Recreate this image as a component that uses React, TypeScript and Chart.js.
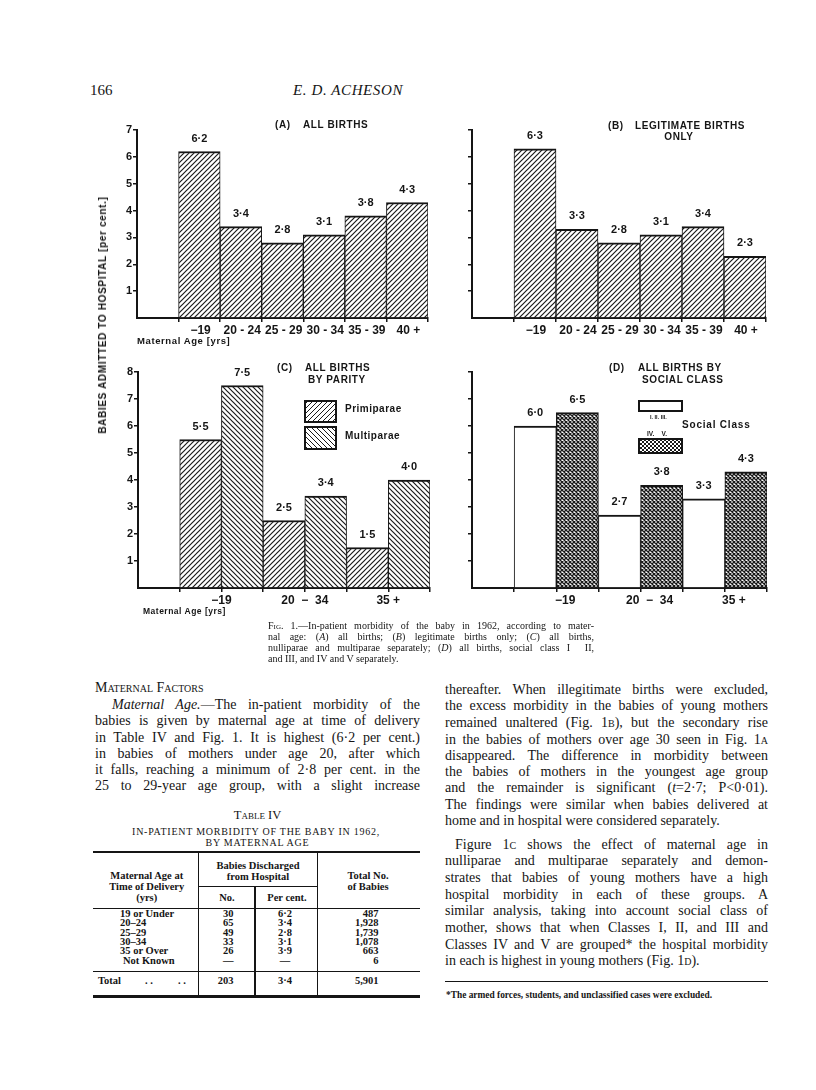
import React, { useEffect, useRef } from 'react';
import { Chart, registerables } from 'chart.js';

Chart.register(...registerables);

const INK = '#151515';
const SANS = '"Liberation Sans", Arial, sans-serif';
const SERIF = '"Liberation Serif", "Times New Roman", serif';

// ---------------- chart data ----------------
const AGE_GROUPS = ['−19', '20 - 24', '25 - 29', '30 - 34', '35 - 39', '40 +'];
const ALL_BIRTHS = [6.2, 3.4, 2.8, 3.1, 3.8, 4.3];
const LEGITIMATE_BIRTHS = [6.3, 3.3, 2.8, 3.1, 3.4, 2.3];
const BROAD_AGE_GROUPS = ['−19', '20  −  34', '35 +'];
const PRIMIPARAE = [5.5, 2.5, 1.5];
const MULTIPARAE = [7.5, 3.4, 4.0];
const SOCIAL_I_II_III = [6.0, 2.7, 3.3];
const SOCIAL_IV_V = [6.5, 3.8, 4.3];
const Y_MAX_AB = 7;
const Y_MAX_CD = 8;
const SLOTS = 7;

// ---------------- table data ----------------
const TABLE_AGE = ['19 or Under', '20–24', '25–29', '30–34', '35 or Over', 'Not Known'];
const TABLE_NO = ['30', '65', '49', '33', '26', '—'];
const TABLE_PCT = ['6·2', '3·4', '2·8', '3·1', '3·9', '—'];
const TABLE_TOTAL = ['487', '1,928', '1,739', '1,078', '663', '6'];
const TABLE_SUM = ['203', '3·4', '5,901'];

// ---------------- layout constants ----------------
const Y_AXIS_W = 30;
const X_AXIS_H = 32;
const PAD_TOP = 10;
const PAD_RIGHT = 12;

const fmt = (v: number) => v.toFixed(1).replace('.', '·');

function hatchPattern(dir: 'up' | 'down') {
  const s = 5;
  const c = document.createElement('canvas');
  c.width = s;
  c.height = s;
  const g = c.getContext('2d')!;
  g.fillStyle = '#fff';
  g.fillRect(0, 0, s, s);
  g.strokeStyle = '#1a1a1a';
  g.lineWidth = 1.2;
  g.beginPath();
  for (const o of [-s, 0, s]) {
    if (dir === 'up') {
      g.moveTo(o - 1, s + 1);
      g.lineTo(o + s + 1, -1);
    } else {
      g.moveTo(o - 1, -1);
      g.lineTo(o + s + 1, s + 1);
    }
  }
  g.stroke();
  return g.createPattern(c, 'repeat')!;
}

function crossPattern() {
  const s = 4;
  const c = document.createElement('canvas');
  c.width = s;
  c.height = s;
  const g = c.getContext('2d')!;
  g.fillStyle = '#fff';
  g.fillRect(0, 0, s, s);
  g.strokeStyle = '#1a1a1a';
  g.lineWidth = 1.3;
  g.beginPath();
  for (const o of [-s, 0, s]) {
    g.moveTo(o - 1, s + 1);
    g.lineTo(o + s + 1, -1);
    g.moveTo(o - 1, -1);
    g.lineTo(o + s + 1, s + 1);
  }
  g.stroke();
  return g.createPattern(c, 'repeat')!;
}

const valueLabels = {
  id: 'valueLabels',
  afterDatasetsDraw(chart: any) {
    const { ctx } = chart;
    ctx.save();
    ctx.font = `bold 11px ${SANS}`;
    ctx.fillStyle = INK;
    ctx.textAlign = 'center';
    ctx.textBaseline = 'middle';
    chart.data.datasets.forEach((ds: any, i: number) => {
      const meta = chart.getDatasetMeta(i);
      meta.data.forEach((el: any, j: number) => {
        ctx.fillText(fmt(ds.data[j].y), el.x, el.y - 13);
      });
    });
    ctx.restore();
  },
};

function barSet(label: string, values: number[], pos: (i: number) => number, fill: any) {
  return {
    label,
    data: values.map((v, i) => ({ x: pos(i), y: v })),
    backgroundColor: fill,
    borderColor: INK,
    borderWidth: { top: 2, left: 1, right: 1, bottom: 0 },
    borderSkipped: 'start',
    barPercentage: 1,
    categoryPercentage: 1,
    grouped: false,
  };
}

function barConfig(opts: {
  datasets: any[];
  yMax: number;
  yLabels: boolean;
  xLabels: { value: number; label: string }[];
  xMarks: number[];
  labelOffset?: number;
}) {
  const labelMap = new Map(opts.xLabels.map((t) => [t.value, t.label]));
  const markSet = new Set(opts.xMarks);
  const tickValues = Array.from(new Set([...opts.xMarks, ...opts.xLabels.map((t) => t.value)])).sort((a, b) => a - b);
  return {
    type: 'bar',
    data: { datasets: opts.datasets },
    options: {
      responsive: false,
      animation: false,
      events: [],
      layout: { padding: { top: PAD_TOP, right: PAD_RIGHT, left: 0, bottom: 0 } },
      plugins: { legend: { display: false }, tooltip: { enabled: false }, title: { display: false } },
      scales: {
        x: {
          type: 'linear',
          min: 0,
          max: SLOTS,
          offset: false,
          afterBuildTicks: (s: any) => {
            s.ticks = tickValues.map((v) => ({ value: v }));
          },
          afterFit: (s: any) => {
            s.height = X_AXIS_H;
          },
          grid: {
            offset: false,
            drawOnChartArea: false,
            drawTicks: true,
            tickLength: 4,
            lineWidth: 1.5,
            color: (c: any) => (c.tick && markSet.has(c.tick.value) ? INK : 'rgba(0,0,0,0)'),
          },
          border: { display: true, color: INK, width: 2 },
          ticks: {
            autoSkip: false,
            maxRotation: 0,
            minRotation: 0,
            padding: 1,
            labelOffset: opts.labelOffset || 0,
            color: INK,
            font: { family: SANS, size: 12, weight: 'bold' },
            callback: (v: number) => labelMap.get(v) ?? '',
          },
        },
        y: {
          type: 'linear',
          min: 0,
          max: opts.yMax,
          afterFit: (s: any) => {
            s.width = Y_AXIS_W;
          },
          grid: {
            drawOnChartArea: false,
            drawTicks: true,
            tickLength: 4,
            lineWidth: 1.5,
            color: (c: any) => (c.tick && c.tick.value > 0 ? INK : 'rgba(0,0,0,0)'),
          },
          border: { display: true, color: INK, width: 2 },
          ticks: {
            stepSize: 1,
            padding: 1,
            color: INK,
            font: { family: SANS, size: 11, weight: 'bold' },
            callback: (v: number) => (opts.yLabels && v > 0 ? String(v) : ''),
          },
        },
      },
    },
    plugins: [valueLabels],
  } as any;
}

const boundaryMarks = [1, 2, 3, 4, 5, 6, 7];

// A / B: each age-group label sits on the left edge tick of its bar, shifted to the bar centre
function buildA() {
  return barConfig({
    datasets: [barSet('All births', ALL_BIRTHS, (i) => i + 1.5, hatchPattern('up'))],
    yMax: Y_MAX_AB,
    yLabels: true,
    xLabels: AGE_GROUPS.map((l, i) => ({ value: i + 1, label: l })),
    xMarks: boundaryMarks,
    labelOffset: 22,
  });
}
function buildB() {
  return barConfig({
    datasets: [barSet('Legitimate births only', LEGITIMATE_BIRTHS, (i) => i + 1.5, hatchPattern('up'))],
    yMax: Y_MAX_AB,
    yLabels: false,
    xLabels: AGE_GROUPS.map((l, i) => ({ value: i + 1, label: l })),
    xMarks: boundaryMarks,
    labelOffset: 22,
  });
}
function buildC() {
  return barConfig({
    datasets: [
      barSet('Primiparae', PRIMIPARAE, (i) => 2 * i + 1.5, hatchPattern('up')),
      barSet('Multiparae', MULTIPARAE, (i) => 2 * i + 2.5, hatchPattern('down')),
    ],
    yMax: Y_MAX_CD,
    yLabels: true,
    xLabels: BROAD_AGE_GROUPS.map((l, i) => ({ value: 2 * i + 2, label: l })),
    xMarks: boundaryMarks,
  });
}
function buildD() {
  return barConfig({
    datasets: [
      barSet('Social class I, II, III', SOCIAL_I_II_III, (i) => 2 * i + 1.5, '#ffffff'),
      barSet('Social class IV, V', SOCIAL_IV_V, (i) => 2 * i + 2.5, crossPattern()),
    ],
    yMax: Y_MAX_CD,
    yLabels: false,
    xLabels: BROAD_AGE_GROUPS.map((l, i) => ({ value: 2 * i + 2, label: l })),
    xMarks: boundaryMarks,
    labelOffset: 9,
  });
}

function BarPanel(props: { left: number; top: number; width: number; height: number; build: () => any }) {
  const ref = useRef<HTMLCanvasElement>(null);
  useEffect(() => {
    const chart = new Chart(ref.current!, props.build());
    return () => chart.destroy();
  }, []);
  return (
    <canvas
      ref={ref}
      width={props.width}
      height={props.height}
      style={{ position: 'absolute', left: props.left, top: props.top, width: props.width, height: props.height }}
    />
  );
}

function panelBox(areaLeft: number, areaRight: number, areaTop: number, areaBottom: number) {
  return {
    left: areaLeft - Y_AXIS_W,
    top: areaTop - PAD_TOP,
    width: Y_AXIS_W + (areaRight - areaLeft) + PAD_RIGHT,
    height: PAD_TOP + (areaBottom - areaTop) + X_AXIS_H,
  };
}

function T(p: {
  x: number;
  y: number;
  size?: number;
  family?: string;
  weight?: number;
  italic?: boolean;
  align?: 'left' | 'center' | 'right';
  ls?: number;
  children: any;
  style?: any;
}) {
  const size = p.size ?? 10;
  const lh = Math.round(size * 1.2);
  const tx = p.align === 'center' ? '-50%' : p.align === 'right' ? '-100%' : '0';
  return (
    <div
      style={{
        position: 'absolute',
        left: p.x,
        top: p.y - lh / 2,
        fontSize: size,
        lineHeight: lh + 'px',
        fontFamily: p.family ?? SERIF,
        fontWeight: p.weight ?? 400,
        fontStyle: p.italic ? 'italic' : 'normal',
        letterSpacing: p.ls ?? 0,
        whiteSpace: 'nowrap',
        transform: `translateX(${tx})`,
        ...p.style,
      }}
    >
      {p.children}
    </div>
  );
}

function Line(p: { x: number; y: number; w: number; last?: boolean; indent?: number; size?: number; lh?: number; children: any; style?: any }) {
  const lh = p.lh ?? 16.5;
  return (
    <div
      style={{
        position: 'absolute',
        left: p.x,
        top: p.y - lh / 2,
        width: p.w,
        height: lh,
        lineHeight: lh + 'px',
        fontSize: p.size ?? 14,
        fontFamily: SERIF,
        textAlign: 'justify',
        textAlignLast: p.last ? 'left' : 'justify',
        textIndent: p.indent ?? 0,
        whiteSpace: 'nowrap',
        ...p.style,
      }}
    >
      {p.children}
    </div>
  );
}

const SC = (s: string) => <span style={{ fontVariant: 'small-caps' }}>{s}</span>;
const I = (s: string) => <i>{s}</i>;

function HLine(p: { x1: number; x2: number; y: number; w?: number }) {
  const w = p.w ?? 1;
  return <div style={{ position: 'absolute', left: p.x1, top: p.y - w / 2, width: p.x2 - p.x1, height: w, background: INK }} />;
}
function VLine(p: { x: number; y1: number; y2: number; w?: number }) {
  const w = p.w ?? 1;
  return <div style={{ position: 'absolute', left: p.x - w / 2, top: p.y1, width: w, height: p.y2 - p.y1, background: INK }} />;
}

const hatchUpCss = 'repeating-linear-gradient(135deg, #1a1a1a 0 1px, #fff 1px 3.54px)';
const hatchDownCss = 'repeating-linear-gradient(45deg, #1a1a1a 0 1px, #fff 1px 3.54px)';
const crossCss =
  'repeating-linear-gradient(45deg, #1a1a1a 0 1.3px, transparent 1.3px 2.83px), repeating-linear-gradient(135deg, #1a1a1a 0 1.3px, transparent 1.3px 2.83px)';

function Box(p: { x: number; y: number; w: number; h: number; bg: string }) {
  return (
    <div
      style={{
        position: 'absolute',
        left: p.x,
        top: p.y,
        width: p.w,
        height: p.h,
        boxSizing: 'border-box',
        border: `2px solid ${INK}`,
        backgroundColor: '#fff',
        backgroundImage: p.bg,
      }}
    />
  );
}

export default function App() {
  const A = panelBox(137, 428, 130, 318);
  const B = panelBox(472, 766, 130, 318);
  const C = panelBox(138, 430, 372, 588);
  const D = panelBox(472, 767, 372, 588);

  const chartTitle = { family: SANS, weight: 700, size: 10, ls: 0.6 };
  const colL = 95;
  const colLW = 325;
  const colR = 445;
  const colRW = 323;
  const rowsY = [914, 923.3, 932.7, 942, 951.3, 960.7];
  const tf = { size: 10.5, weight: 700 };

  return (
    <div
      style={{
        position: 'absolute',
        left: 0,
        top: 0,
        width: 816,
        height: 1090,
        background: '#fff',
        color: INK,
        overflow: 'hidden',
      }}
    >
      {/* running head */}
      <T x={90} y={90} size={15}>166</T>
      <T x={348} y={90} size={15} italic align="center" ls={0.6}>E. D. ACHESON</T>

      {/* charts */}
      <BarPanel {...A} build={buildA} />
      <BarPanel {...B} build={buildB} />
      <BarPanel {...C} build={buildC} />
      <BarPanel {...D} build={buildD} />

      {/* shared y axis title */}
      <div
        style={{
          position: 'absolute',
          left: 102.5,
          top: 314.5,
          transform: 'translate(-50%, -50%) rotate(-90deg)',
          whiteSpace: 'nowrap',
          fontFamily: SANS,
          fontWeight: 700,
          fontSize: 10,
          letterSpacing: 0.65,
          lineHeight: '12px',
        }}
      >
        BABIES ADMITTED TO HOSPITAL [per cent.]
      </div>

      {/* panel titles */}
      <T x={275} y={125} {...chartTitle}>(A)</T>
      <T x={303} y={125} {...chartTitle}>ALL BIRTHS</T>
      <T x={608} y={126} {...chartTitle}>(B)</T>
      <T x={635} y={126} {...chartTitle}>LEGITIMATE BIRTHS</T>
      <T x={679} y={137} align="center" {...chartTitle}>ONLY</T>
      <T x={277} y={368} {...chartTitle}>(C)</T>
      <T x={305} y={368} {...chartTitle}>ALL BIRTHS</T>
      <T x={308} y={380} {...chartTitle}>BY PARITY</T>
      <T x={609} y={368} {...chartTitle}>(D)</T>
      <T x={638} y={368} {...chartTitle}>ALL BIRTHS BY</T>
      <T x={642} y={380} {...chartTitle}>SOCIAL CLASS</T>

      {/* x axis titles */}
      <T x={137} y={340} family={SANS} weight={700} size={9.5} ls={0.6}>Maternal Age [yrs]</T>
      <T x={143} y={611} family={SANS} weight={700} size={8.5} ls={0.5}>Maternal Age [yrs]</T>

      {/* legend C */}
      <Box x={304} y={400} w={33} h={23} bg={hatchUpCss} />
      <Box x={304} y={426} w={33} h={24} bg={hatchDownCss} />
      <T x={345} y={409} family={SANS} weight={700} size={10} ls={0.5}>Primiparae</T>
      <T x={345} y={436} family={SANS} weight={700} size={10} ls={0.5}>Multiparae</T>

      {/* legend D */}
      <Box x={638} y={400} w={45} h={12} bg="none" />
      <T x={650} y={417} family={SANS} weight={700} size={5.5}>I.  II.  III.</T>
      <T x={682} y={425} family={SANS} weight={700} size={10} ls={0.8}>Social Class</T>
      <T x={647} y={434} family={SANS} weight={700} size={6.5}>IV.&nbsp;&nbsp;&nbsp;&nbsp;V.</T>
      <Box x={638} y={438} w={45} h={16} bg={crossCss} />

      {/* figure caption */}
      <Line x={268} y={625} w={326} size={10} lh={11}>
        {SC('Fig')}. 1.—In-patient morbidity of the baby in 1962, according to mater-
      </Line>
      <Line x={268} y={636} w={326} size={10} lh={11}>
        nal age: ({I('A')}) all births; ({I('B')}) legitimate births only; ({I('C')}) all births,
      </Line>
      <Line x={268} y={647} w={326} size={10} lh={11}>
        nulliparae and multiparae separately; ({I('D')}) all births, social class I&nbsp; II,
      </Line>
      <Line x={268} y={658} w={326} size={10} lh={11} last>
        and III, and IV and V separately.
      </Line>

      {/* left column text */}
      <Line x={colL} y={688.3} w={colLW} last>{SC('Maternal Factors')}</Line>
      <Line x={colL} y={705} w={colLW} indent={17}>
        {I('Maternal Age.')}—The in-patient morbidity of the
      </Line>
      <Line x={colL} y={721.7} w={colLW}>babies is given by maternal age at time of delivery</Line>
      <Line x={colL} y={738} w={colLW}>in Table IV and Fig. 1. It is highest (6·2 per cent.)</Line>
      <Line x={colL} y={754} w={colLW}>in babies of mothers under age 20, after which</Line>
      <Line x={colL} y={770.3} w={colLW}>it falls, reaching a minimum of 2·8 per cent. in the</Line>
      <Line x={colL} y={786.5} w={colLW}>25 to 29-year age group, with a slight increase</Line>

      {/* table title */}
      <T x={257.5} y={815} size={12.5} align="center">{SC('Table IV')}</T>
      <T x={256} y={831.7} size={10} align="center" ls={0.75}>IN-PATIENT MORBIDITY OF THE BABY IN 1962,</T>
      <T x={257.5} y={843} size={10} align="center" ls={0.75}>BY MATERNAL AGE</T>

      {/* table rules */}
      <HLine x1={93} x2={420} y={852} w={2.5} />
      <HLine x1={198} x2={317} y={886.7} w={1} />
      <HLine x1={93} x2={420} y={908.3} w={1.5} />
      <HLine x1={93} x2={420} y={971.7} w={1} />
      <HLine x1={93} x2={420} y={996.7} w={3} />
      <VLine x={198.3} y1={852} y2={997} w={1.3} />
      <VLine x={317.3} y1={852} y2={997} w={1.3} />
      <VLine x={255} y1={887} y2={997} w={1.3} />

      {/* table header */}
      <T x={146.7} y={875} align="center" {...tf}>Maternal Age at</T>
      <T x={146.7} y={886} align="center" {...tf}>Time of Delivery</T>
      <T x={146.7} y={897} align="center" {...tf}>(yrs)</T>
      <T x={258} y={865} align="center" {...tf}>Babies Discharged</T>
      <T x={258} y={876} align="center" {...tf}>from Hospital</T>
      <T x={227} y={897} align="center" {...tf}>No.</T>
      <T x={287} y={897} align="center" {...tf}>Per cent.</T>
      <T x={368} y={875} align="center" {...tf}>Total No.</T>
      <T x={368} y={886} align="center" {...tf}>of Babies</T>

      {/* table body */}
      {TABLE_AGE.map((a, i) => (
        <T key={'a' + i} x={i === 5 ? 123 : 120} y={rowsY[i]} {...tf} style={{ lineHeight: '10px', top: rowsY[i] - 5 }}>
          {a}
        </T>
      ))}
      {TABLE_NO.map((a, i) => (
        <T key={'n' + i} x={233.5} y={rowsY[i]} align="right" {...tf} style={{ lineHeight: '10px', top: rowsY[i] - 5 }}>
          {a}
        </T>
      ))}
      {TABLE_PCT.map((a, i) => (
        <T key={'p' + i} x={285} y={rowsY[i]} align="center" {...tf} style={{ lineHeight: '10px', top: rowsY[i] - 5 }}>
          {a}
        </T>
      ))}
      {TABLE_TOTAL.map((a, i) => (
        <T key={'t' + i} x={378.5} y={rowsY[i]} align="right" {...tf} style={{ lineHeight: '10px', top: rowsY[i] - 5 }}>
          {a}
        </T>
      ))}
      <T x={98} y={980} {...tf}>Total</T>
      <T x={145} y={980} {...tf}>. .</T>
      <T x={178} y={980} {...tf}>. .</T>
      <T x={233.5} y={980} align="right" {...tf}>{TABLE_SUM[0]}</T>
      <T x={285} y={980} align="center" {...tf}>{TABLE_SUM[1]}</T>
      <T x={378.5} y={980} align="right" {...tf}>{TABLE_SUM[2]}</T>

      {/* right column text */}
      <Line x={colR} y={690} w={colRW}>thereafter. When illegitimate births were excluded,</Line>
      <Line x={colR} y={706.7} w={colRW}>the excess morbidity in the babies of young mothers</Line>
      <Line x={colR} y={723.3} w={colRW}>remained unaltered (Fig. 1{SC('b')}), but the secondary rise</Line>
      <Line x={colR} y={740} w={colRW}>in the babies of mothers over age 30 seen in Fig. 1{SC('a')}</Line>
      <Line x={colR} y={756.3} w={colRW}>disappeared. The difference in morbidity between</Line>
      <Line x={colR} y={772.7} w={colRW}>the babies of mothers in the youngest age group</Line>
      <Line x={colR} y={788.7} w={colRW}>and the remainder is significant ({I('t')}=2·7; P&lt;0·01).</Line>
      <Line x={colR} y={805} w={colRW}>The findings were similar when babies delivered at</Line>
      <Line x={colR} y={821.7} w={colRW} last>home and in hospital were considered separately.</Line>
      <Line x={colR} y={845} w={colRW} indent={10}>Figure 1{SC('c')} shows the effect of maternal age in</Line>
      <Line x={colR} y={861.7} w={colRW}>nulliparae and multiparae separately and demon-</Line>
      <Line x={colR} y={878.3} w={colRW}>strates that babies of young mothers have a high</Line>
      <Line x={colR} y={895} w={colRW}>hospital morbidity in each of these groups. A</Line>
      <Line x={colR} y={911.7} w={colRW}>similar analysis, taking into account social class of</Line>
      <Line x={colR} y={928.3} w={colRW}>mother, shows that when Classes I, II, and III and</Line>
      <Line x={colR} y={945} w={colRW}>Classes IV and V are grouped* the hospital morbidity</Line>
      <Line x={colR} y={961.7} w={colRW} last>in each is highest in young mothers (Fig. 1{SC('d')}).</Line>

      {/* footnote */}
      <HLine x1={445} x2={768} y={981.7} w={1} />
      <T x={446} y={995} size={9.4} weight={700}>*The armed forces, students, and unclassified cases were excluded.</T>
    </div>
  );
}
